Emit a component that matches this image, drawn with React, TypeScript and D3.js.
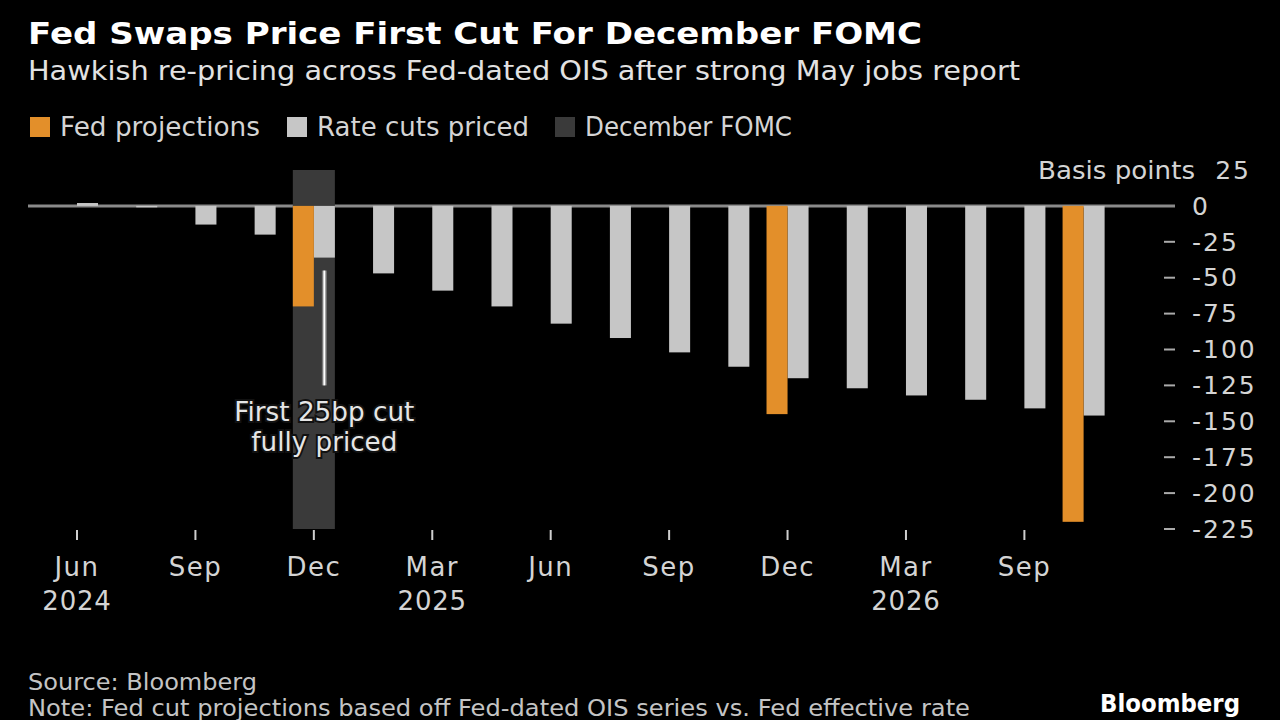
import React from "react";
import * as d3 from "d3";

const categories = [
  "Jun 2024", "Jul 2024", "Sep 2024", "Nov 2024", "Dec 2024", "Jan 2025",
  "Mar 2025", "May 2025", "Jun 2025", "Jul 2025", "Sep 2025", "Oct 2025",
  "Dec 2025", "Jan 2026", "Mar 2026", "Apr 2026", "Jun 2026", "Jul 2026",
];
const rateCutsPriced = [2, -1, -13, -20, -36, -47, -59, -70, -82, -92, -102, -112, -120, -127, -132, -135, -141, -146];
const fedProjections: (number | null)[] = [
  null, null, null, null, -70, null, null, null, null, null, null, null,
  -145, null, null, null, null, -220,
];
const highlightCategory = "Dec 2024";
const xTickCategories = ["Jun 2024", "Sep 2024", "Dec 2024", "Mar 2025", "Jun 2025", "Sep 2025", "Dec 2025", "Mar 2026", "Jun 2026"];
const xTickLabels = ["Jun", "Sep", "Dec", "Mar", "Jun", "Sep", "Dec", "Mar", "Sep"];
const xTickYears = ["2024", "", "", "2025", "", "", "", "2026", ""];
const yTicks = [0, -25, -50, -75, -100, -125, -150, -175, -200, -225];
const yTop = 25;
const yBottom = -225;

const legendItems = [
  { label: "Fed projections", color: "#E38F2A" },
  { label: "Rate cuts priced", color: "#C6C6C6" },
  { label: "December FOMC", color: "#3A3A3A" },
];

const FONT = "'DejaVu Sans', sans-serif";

export default function App() {
  if (typeof document !== "undefined") {
    document.body.style.margin = "0";
    document.body.style.background = "#000";
  }
  const x = d3.scalePoint<string>().domain(categories).range([77, 1083.6]);
  const step = x.step();
  const bw = step * 0.355;
  const y = d3.scaleLinear().domain([yBottom, yTop]).range([529, 170]);
  const cx = (c: string) => x(c) as number;
  const legendStarts = [30, 287, 555];
  const legendWidths = [200, 212, 207];

  return (
    <svg width={1280} height={720} style={{ position: "absolute", left: 0, top: 0, background: "#000" }} fontFamily={FONT}>
      <rect x={0} y={0} width={1280} height={720} fill="#000" />
      {/* Title */}
      <text x={28} y={44} fill="#fff" fontSize={31} fontWeight="bold" textLength={894} lengthAdjust="spacingAndGlyphs">
        Fed Swaps Price First Cut For December FOMC
      </text>
      <text x={28} y={80} fill="#e2e2e2" fontSize={27} textLength={992} lengthAdjust="spacingAndGlyphs">
        Hawkish re-pricing across Fed-dated OIS after strong May jobs report
      </text>
      {/* Legend */}
      {legendItems.map((it, i) => (
        <g key={it.label}>
          <rect x={legendStarts[i]} y={117} width={20} height={20} fill={it.color} />
          <text x={legendStarts[i] + 30} y={136} fill="#d4d4d4" fontSize={26} textLength={legendWidths[i]} lengthAdjust="spacingAndGlyphs">{it.label}</text>
        </g>
      ))}
      {/* zero line */}
      <line x1={28} x2={1175} y1={y(0)} y2={y(0)} stroke="#8a8a8a" strokeWidth={3} />
      {/* highlight band */}
      <rect x={cx(highlightCategory) - bw} width={bw * 2} y={y(yTop)} height={y(yBottom) - y(yTop)} fill="#3A3A3A" />
      {/* grey bars */}
      {categories.map((c, i) => {
        const v = rateCutsPriced[i];
        return (
          <rect key={"g" + c} x={cx(c)} width={bw} y={Math.min(y(v), y(0))} height={Math.abs(y(v) - y(0))} fill="#C6C6C6" />
        );
      })}
      {/* orange bars */}
      {categories.map((c, i) => {
        const v = fedProjections[i];
        if (v == null) return null;
        return (
          <rect key={"o" + c} x={cx(c) - bw} width={bw} y={y(0)} height={y(v) - y(0)} fill="#E38F2A" />
        );
      })}
      {/* annotation */}
      {(() => {
        const ax = cx(highlightCategory) + bw / 2;
        return (
          <g>
            <line x1={ax} x2={ax} y1={y(-45)} y2={y(-125)} stroke="#777" strokeWidth={5} />
            <line x1={ax} x2={ax} y1={y(-45)} y2={y(-125)} stroke="#fff" strokeWidth={2} />
            <text x={ax} y={421} textAnchor="middle" fill="#e6e6e6" fontSize={26} stroke="#111" strokeWidth={4} paintOrder="stroke" textLength={180} lengthAdjust="spacingAndGlyphs">First 25bp cut</text>
            <text x={ax} y={451} textAnchor="middle" fill="#e6e6e6" fontSize={26} stroke="#111" strokeWidth={4} paintOrder="stroke" textLength={146} lengthAdjust="spacingAndGlyphs">fully priced</text>
          </g>
        );
      })()}
      {/* x ticks */}
      {xTickCategories.map((c, i) => (
        <g key={"xt" + i}>
          <line x1={cx(c)} x2={cx(c)} y1={530} y2={540} stroke="#cfcfcf" strokeWidth={2} />
          <text x={cx(c)} y={576} textAnchor="middle" fill="#d4d4d4" fontSize={26} letterSpacing={1.5}>{xTickLabels[i]}</text>
          {xTickYears[i] && (
            <text x={cx(c)} y={610} textAnchor="middle" fill="#d4d4d4" fontSize={26} letterSpacing={0.8}>{xTickYears[i]}</text>
          )}
        </g>
      ))}
      {/* y ticks */}
      {yTicks.map((t) => (
        <g key={"yt" + t}>
          {t !== 0 && <line x1={1164} x2={1175} y1={y(t)} y2={y(t)} stroke="#aaa" strokeWidth={2} />}
          <text x={1192} y={y(t)} dy="0.35em" fill="#d4d4d4" fontSize={25} letterSpacing={2}>{t === 0 ? "0" : String(t)}</text>
        </g>
      ))}
      <text x={1251} y={y(yTop)} dy="0.35em" textAnchor="end" fill="#d4d4d4" fontSize={25} letterSpacing={2}>{String(yTop)}</text>
      <text x={1038} y={y(yTop)} dy="0.35em" fill="#d4d4d4" fontSize={25} textLength={157} lengthAdjust="spacingAndGlyphs">Basis points</text>
      {/* footer */}
      <text x={28} y={690} fill="#c4c4c4" fontSize={23} textLength={229} lengthAdjust="spacingAndGlyphs">Source: Bloomberg</text>
      <text x={28} y={716} fill="#c4c4c4" fontSize={23} textLength={942} lengthAdjust="spacingAndGlyphs">Note: Fed cut projections based off Fed-dated OIS series vs. Fed effective rate</text>
      <text x={1100} y={712} fill="#fff" fontSize={24} fontWeight="bold" textLength={140} lengthAdjust="spacingAndGlyphs">Bloomberg</text>
    </svg>
  );
}
